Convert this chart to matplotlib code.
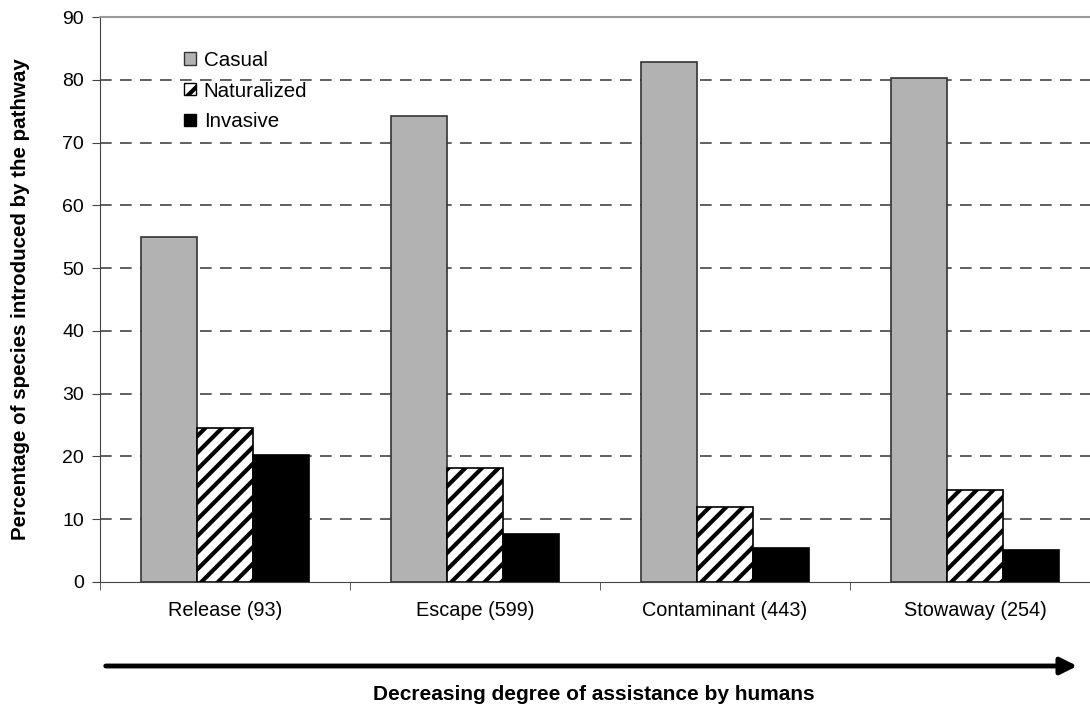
import numpy as np
import matplotlib
matplotlib.use("Agg")
import matplotlib.pyplot as plt
from matplotlib.patches import Patch, FancyArrowPatch

# pathway data (percent of species)
pathways = ['Release (93)', 'Escape (599)', 'Contaminant (443)', 'Stowaway (254)']
casual = [55.0, 74.2, 82.8, 80.3]
naturalized = [24.6, 18.2, 11.9, 14.6]
invasive = [20.2, 7.7, 5.4, 5.1]
series_names = ['Casual', 'Naturalized', 'Invasive']

plt.rcParams['font.family'] = ['Liberation Sans', 'DejaVu Sans']
plt.rcParams['hatch.linewidth'] = 3.0

fig = plt.figure(figsize=(10.9, 7.14), dpi=100)
ax = fig.add_axes([100 / 1090, 132 / 714, 1000 / 1090, 565 / 714])

x = np.arange(len(pathways))
w = 0.224
ax.bar(x - w, casual, w, color='#b2b2b2', edgecolor='#333333', linewidth=1.2, zorder=3)
ax.bar(x, naturalized, w, color='white', edgecolor='black', hatch='//', linewidth=1.2, zorder=3)
ax.bar(x + w, invasive, w, color='black', edgecolor='black', linewidth=1.2, zorder=3)

ax.set_xlim(-0.5, len(pathways) - 0.5)
ax.set_ylim(0, 90)
ax.set_yticks(range(0, 91, 10))
ax.set_xticks(x)
ax.set_xticklabels(pathways, fontsize=14.3)
ax.set_xticks(np.arange(-0.5, len(pathways), 1), minor=True)
ax.tick_params(axis='x', which='major', length=0, pad=14)
ax.tick_params(axis='x', which='minor', length=6, direction='out', color='#444444')
ax.tick_params(axis='y', labelsize=14, direction='out', length=5.5, color='#444444', pad=6)

for v in range(10, 90, 10):
    ax.axhline(v, color='#444444', linestyle=(0, (7, 5)), linewidth=1.2, zorder=1)

ax.spines['right'].set_visible(False)
ax.spines['top'].set_color('#999999')
ax.spines['top'].set_linewidth(1.5)
ax.spines['left'].set_color('#444444')
ax.spines['bottom'].set_color('#444444')

ax.set_ylabel('Percentage of species introduced by the pathway', fontsize=14.8,
              fontweight='bold', labelpad=23)

handles = [Patch(facecolor='#b2b2b2', edgecolor='#333333'),
           Patch(facecolor='white', edgecolor='black', hatch='//'),
           Patch(facecolor='black', edgecolor='black')]
ax.legend(handles, series_names, loc='upper left', bbox_to_anchor=(0.076, 0.955),
          frameon=False, fontsize=14.8, handlelength=0.55, handleheight=0.55,
          handletextpad=0.4, labelspacing=0.58, borderaxespad=0)

# arrow below the axis
fig.add_artist(FancyArrowPatch(
    (103 / 1090, 48 / 714), (1080 / 1090, 48 / 714), transform=fig.transFigure,
    arrowstyle='-|>,head_length=10,head_width=5', linewidth=3.5, color='black',
    mutation_scale=1))
fig.text(594 / 1090, 19 / 714, 'Decreasing degree of assistance by humans',
         ha='center', va='center', fontsize=15, fontweight='bold')

fig.savefig('out.png', dpi=100)
